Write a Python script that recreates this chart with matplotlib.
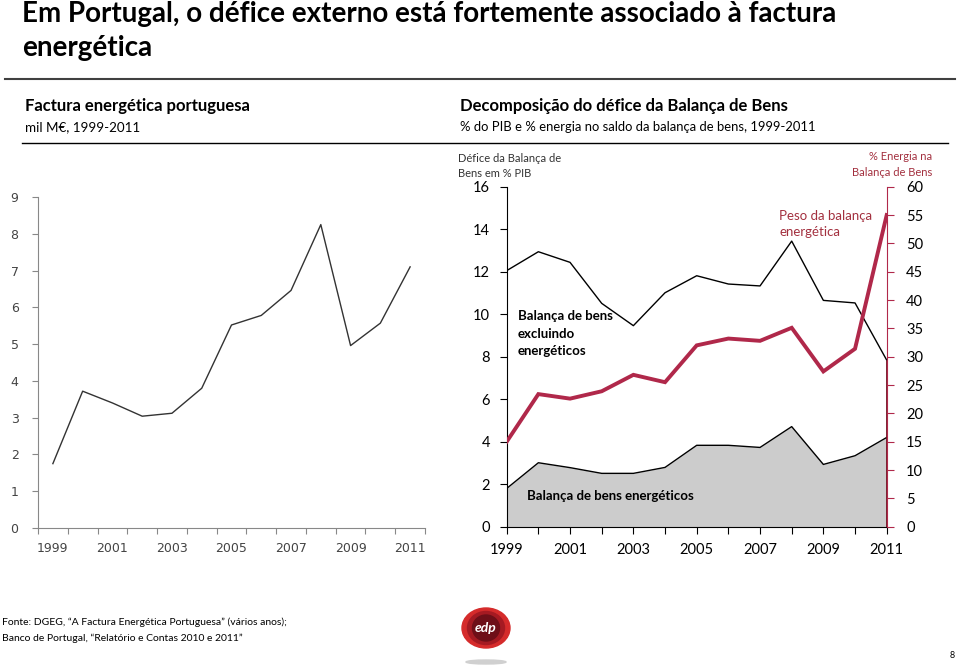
import numpy as np
import matplotlib
matplotlib.use("Agg")
import matplotlib.pyplot as plt
from matplotlib.patches import Ellipse

plt.rcParams['font.family'] = ['Lato', 'DejaVu Sans']

# Factura energética portuguesa (mil M€)
years = list(range(1999, 2012))
factura = [1.75, 3.72, 3.40, 3.04, 3.12, 3.80, 5.52, 5.78, 6.46, 8.25, 4.96, 5.57, 7.10]

# Decomposição do défice da Balança de Bens (% PIB)
defice_total = [12.05, 12.94, 12.44, 10.51, 9.46, 11.01, 11.81, 11.42, 11.33, 13.44, 10.65, 10.53, 7.84]
defice_energia = [1.80, 3.01, 2.78, 2.51, 2.51, 2.79, 3.83, 3.83, 3.73, 4.71, 2.93, 3.34, 4.20]
peso_energia = [15.0, 23.4, 22.6, 23.9, 26.8, 25.5, 32.0, 33.2, 32.8, 35.1, 27.4, 31.4, 55.0]

RED = '#B0284A'
TXT_RED = '#A3303F'
W, H = 960, 667


def fx(x):
    return x / W


def fy(y):
    return 1 - y / H


fig = plt.figure(figsize=(9.6, 6.67), dpi=100)

# titles and headers
fig.text(fx(22), fy(14), "Em Portugal, o défice externo está fortemente associado à factura",
         fontsize=20, fontweight='bold', va='center', color='black')
fig.text(fx(22), fy(48), "energética", fontsize=20, fontweight='bold', va='center', color='black')
fig.add_artist(plt.Line2D([fx(5), fx(955)], [fy(79), fy(79)], color='#404040', lw=1.5))
fig.add_artist(plt.Line2D([fx(22), fx(948)], [fy(143), fy(143)], color='black', lw=1))

fig.text(fx(25), fy(106), "Factura energética portuguesa", fontsize=12, fontweight='bold', va='center')
fig.text(fx(25), fy(127), "mil M€, 1999-2011", fontsize=9.6, va='center')
fig.text(fx(460), fy(106), "Decomposição do défice da Balança de Bens", fontsize=12, fontweight='bold', va='center')
fig.text(fx(460), fy(127), "% do PIB e % energia no saldo da balança de bens, 1999-2011", fontsize=9.4, va='center')

# left chart
ax1 = fig.add_axes([fx(38), fy(528), fx(425) - fx(38), fy(197) - fy(528)])
x1 = np.arange(len(years))
ax1.plot(x1, factura, color='#333333', lw=1)
ax1.set_xlim(-0.5, len(years) - 0.5)
ax1.set_ylim(0, 9)
ax1.set_yticks(range(0, 10))
ax1.set_xticks(np.arange(-0.5, len(years), 1.0))
ax1.set_xticklabels([])
ax1.set_xticks(x1[::2], minor=True)
ax1.set_xticklabels([str(y) for y in years[::2]], minor=True)
ax1.tick_params(axis='x', which='minor', length=0, pad=10)
ax1.tick_params(axis='x', which='major', length=4, color='#888888', direction='out')
ax1.tick_params(axis='y', length=4, color='#888888', pad=10)
for lab in ax1.get_xticklabels(minor=True) + ax1.get_yticklabels():
    lab.set_family('DejaVu Sans')
    lab.set_fontsize(9)
    lab.set_color('#444444')
for s in ['top', 'right']:
    ax1.spines[s].set_visible(False)
for s in ['left', 'bottom']:
    ax1.spines[s].set_color('#888888')

# right chart
ax2 = fig.add_axes([fx(506.7), fy(526.7), fx(886.7) - fx(506.7), fy(186.7) - fy(526.7)])
ax2.fill_between(years, 0, defice_energia, color='#CCCCCC', lw=0)
ax2.plot(years, defice_energia, color='black', lw=1)
ax2.plot(years, defice_total, color='black', lw=1)
ax2.vlines(years[-1], 0, defice_total[-1], color='#6E1020', lw=2, zorder=5)
ax2.set_xlim(1999, 2011)
ax2.set_ylim(0, 16)
ax2.set_yticks(range(0, 17, 2))
ax2.set_xticks(years)
ax2.set_xticklabels([str(y) if (y - 1999) % 2 == 0 else '' for y in years])
ax2.tick_params(axis='both', labelsize=10.5, length=5, pad=7)
ax2.spines['top'].set_visible(False)
ax2.spines['right'].set_visible(False)

ax3 = ax2.twinx()
ax3.plot(years, peso_energia, color=RED, lw=2.8, solid_joinstyle='miter')
ax3.set_ylim(0, 60)
ax3.set_yticks(range(0, 61, 5))
ax3.tick_params(axis='y', labelsize=10.5, length=5, color=RED, pad=9)
ax3.spines['right'].set_color(RED)
for s in ['top', 'left', 'bottom']:
    ax3.spines[s].set_visible(False)

fig.text(fx(458), fy(158), "Défice da Balança de", fontsize=8, color='#333333', va='center')
fig.text(fx(458), fy(173), "Bens em % PIB", fontsize=8, color='#333333', va='center')
fig.text(fx(932), fy(157), "% Energia na", fontsize=8, color=TXT_RED, va='center', ha='right')
fig.text(fx(932), fy(172), "Balança de Bens", fontsize=8, color=TXT_RED, va='center', ha='right')
fig.text(fx(779), fy(216), "Peso da balança", fontsize=9.5, color=TXT_RED, va='center')
fig.text(fx(779), fy(232), "energética", fontsize=9.5, color=TXT_RED, va='center')
for i, t in enumerate(["Balança de bens", "excluindo", "energéticos"]):
    fig.text(fx(518), fy(316 + 17.5 * i), t, fontsize=9.5, fontweight='bold', va='center')
fig.text(fx(527), fy(496), "Balança de bens energéticos", fontsize=9.5, fontweight='bold', va='center')

# footer
fig.text(fx(2), fy(622), "Fonte: DGEG, “A Factura Energética Portuguesa” (vários anos);", fontsize=7.5, va='center')
fig.text(fx(2), fy(638), "Banco de Portugal, “Relatório e Contas 2010 e 2011”", fontsize=7.5, va='center')
fig.text(fx(955), fy(655), "8", fontsize=6.5, va='center', ha='right')

# logo
lg = fig.add_axes([0, 0, 1, 1])
lg.set_xlim(0, W)
lg.set_ylim(H, 0)
lg.axis('off')
lg.add_patch(Ellipse((486, 662), 40, 4, color='#D0D0D0'))
lg.add_patch(Ellipse((486, 628), 48, 40, color='#D52B2B'))
lg.add_patch(Ellipse((486, 628), 37, 33, color='#A51A22'))
lg.add_patch(Ellipse((486, 628), 27, 26, color='#6E0F18'))
lg.text(486, 628, "edp", color='white', fontsize=10, fontweight='bold', style='italic',
        ha='center', va='center')

fig.savefig("out.png", dpi=100)
